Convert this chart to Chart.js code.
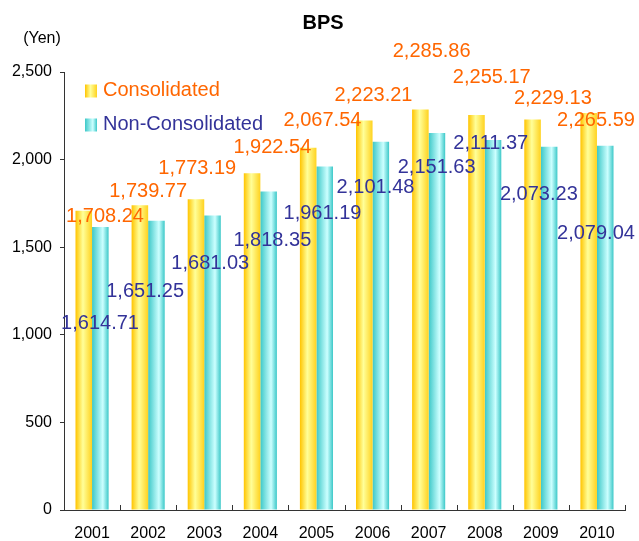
<!DOCTYPE html>
<html>
<head>
<meta charset="utf-8">
<script src="https://cdn.jsdelivr.net/npm/chart.js@4.4.0/dist/chart.umd.min.js"></script>
<style>
    html, body { margin: 0; padding: 0; background: #fff; }
    #bpsChart { display: block; }
</style>
</head>
<body>
<canvas id="bpsChart" width="639" height="541"></canvas>
<script>
const years = ['2001', '2002', '2003', '2004', '2005', '2006', '2007', '2008', '2009', '2010'];
const consolidated = [1708.24, 1739.77, 1773.19, 1922.54, 2067.54, 2223.21, 2285.86, 2255.17, 2229.13, 2265.59];
const nonConsolidated = [1614.71, 1651.25, 1681.03, 1818.35, 1961.19, 2101.48, 2151.63, 2111.37, 2073.23, 2079.04];
const yTicks = [0, 500, 1000, 1500, 2000, 2500];

// where each value label sits, relative to its bar top (pixels)
const consLabelDx = [13, 0, -7, 12, 6, 1, 3, 7, 12, -1];
const consLabelDy = [6, -14, -31, -26, -27, -25, -58, -37, -21, 7];
const nonLabelDx = [8, -3, 6, 12, 6, 3, 8, 6, -2, -1];
const nonLabelDy = [96, 71, 48, 49, 47, 46, 34, 3, 48, 88];

const FONT = '"Liberation Sans", Arial, sans-serif';
const ORANGE = '#FF6600';
const NAVY = '#333399';
const CAT_PCT = 0.59;

const numFmt = new Intl.NumberFormat('en-US', { minimumFractionDigits: 2, maximumFractionDigits: 2 });

function barGradient(ctx, stops, side) {
    const chart = ctx.chart;
    const xs = chart.scales.x;
    if (!xs || !chart.chartArea) return stops[0][1];
    const step = xs.width / years.length;
    const w = step * CAT_PCT / 2;
    const center = xs.getPixelForValue(ctx.dataIndex);
    const left = side < 0 ? center - w : center;
    const g = chart.ctx.createLinearGradient(left, 0, left + w, 0);
    stops.forEach(s => g.addColorStop(s[0], s[1]));
    return g;
}

const yellowStops = [[0, '#FFC400'], [0.45, '#FFFF99'], [1, '#FFD21F']];
const cyanStops = [[0, '#3CC8C8'], [0.65, '#CCFFFF'], [1, '#3CC8C8']];

const extrasPlugin = {
    id: 'extras',
    afterDatasetsDraw(chart) {
        const ctx = chart.ctx;
        const xs = chart.scales.x;
        const ys = chart.scales.y;
        const area = chart.chartArea;
        ctx.save();

        // x-axis tick marks between categories, pointing into the plot
        ctx.strokeStyle = '#333';
        ctx.lineWidth = 1;
        const step = xs.width / years.length;
        for (let i = 0; i <= years.length; i++) {
            const x = Math.round(xs.left + i * step) + 0.5;
            ctx.beginPath();
            ctx.moveTo(x, area.bottom);
            ctx.lineTo(x, area.bottom - 5);
            ctx.stroke();
        }

        // value labels
        ctx.font = '20px ' + FONT;
        ctx.textAlign = 'center';
        ctx.textBaseline = 'middle';
        consolidated.forEach((v, i) => {
            ctx.fillStyle = ORANGE;
            ctx.fillText(numFmt.format(v), xs.getPixelForValue(i) + consLabelDx[i], ys.getPixelForValue(v) + consLabelDy[i]);
        });
        nonConsolidated.forEach((v, i) => {
            ctx.fillStyle = NAVY;
            ctx.fillText(numFmt.format(v), xs.getPixelForValue(i) + nonLabelDx[i], ys.getPixelForValue(v) + nonLabelDy[i]);
        });

        // legend inside the plot
        const entries = [
            { text: chart.data.datasets[0].label, stops: yellowStops, color: ORANGE, y: 90.5 },
            { text: chart.data.datasets[1].label, stops: cyanStops, color: NAVY, y: 124.5 }
        ];
        entries.forEach(e => {
            const g = ctx.createLinearGradient(85, 0, 97, 0);
            e.stops.forEach(s => g.addColorStop(s[0], s[1]));
            ctx.fillStyle = g;
            ctx.fillRect(85, e.y - 6, 12, 13);
            ctx.fillStyle = e.color;
            ctx.textAlign = 'left';
            ctx.fillText(e.text, 103, e.y);
        });

        // title and unit label
        ctx.fillStyle = '#000';
        ctx.textAlign = 'center';
        ctx.font = 'bold 20px ' + FONT;
        ctx.fillText('BPS', 323, 23);
        ctx.font = '16px ' + FONT;
        ctx.fillText('(Yen)', 42, 39);
        ctx.restore();
    }
};

const chart = new Chart(document.getElementById('bpsChart').getContext('2d'), {
    type: 'bar',
    data: {
        labels: years,
        datasets: [
            {
                label: 'Consolidated',
                data: consolidated,
                backgroundColor: ctx => barGradient(ctx, yellowStops, -1),
                borderWidth: 0,
                categoryPercentage: CAT_PCT,
                barPercentage: 1
            },
            {
                label: 'Non-Consolidated',
                data: nonConsolidated,
                backgroundColor: ctx => barGradient(ctx, cyanStops, 1),
                borderWidth: 0,
                categoryPercentage: CAT_PCT,
                barPercentage: 1
            }
        ]
    },
    options: {
        responsive: false,
        animation: false,
        devicePixelRatio: 1,
        layout: { padding: { left: 0, right: 14, top: 72, bottom: 0 } },
        plugins: {
            legend: { display: false },
            tooltip: { enabled: false },
            title: { display: false }
        },
        scales: {
            x: {
                grid: { display: false },
                border: { display: true, color: '#333', width: 1 },
                ticks: { color: '#000', font: { family: FONT, size: 16 }, padding: 6, maxRotation: 0 },
                afterFit: s => { s.height = 31; }
            },
            y: {
                min: 0,
                max: 2500,
                afterBuildTicks: s => { s.ticks = yTicks.map(v => ({ value: v })); },
                grid: { drawOnChartArea: false, drawTicks: true, tickLength: 4, color: '#333' },
                border: { display: true, color: '#333', width: 1 },
                ticks: {
                    color: '#000',
                    font: { family: FONT, size: 16 },
                    padding: 8,
                    callback: v => v.toLocaleString('en-US')
                },
                afterFit: s => { s.width = 64; }
            }
        }
    },
    plugins: [extrasPlugin]
});
</script>
</body>
</html>
